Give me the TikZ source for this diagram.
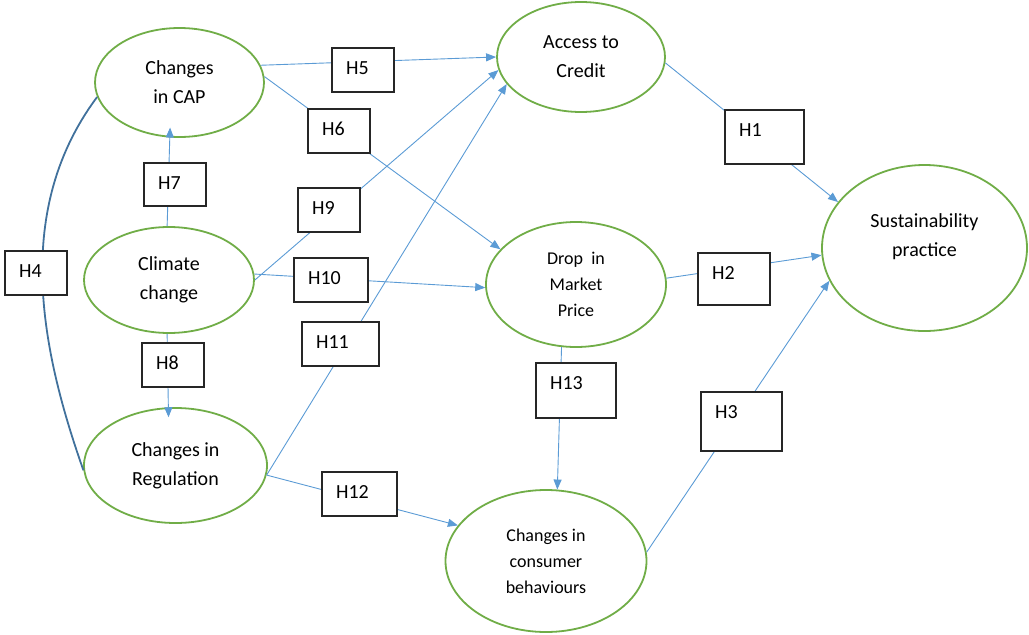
\documentclass[tikz,border=0pt]{standalone}
\usepackage{fontspec}
\setmainfont{Carlito}
\usetikzlibrary{shapes.geometric,arrows.meta}
\definecolor{ovalgreen}{HTML}{70AD47}
\definecolor{linkblue}{HTML}{5B9BD5}
\definecolor{curveblue}{HTML}{41719C}
\begin{document}
\begin{tikzpicture}[x = 1pt, y = -1pt,
    construct/.style = {ellipse, draw = ovalgreen, line width = 1.8pt, inner sep = 0pt,
      align = center, font = \fontsize{20}{29}\selectfont},
    smallconstruct/.style = {construct, font = \fontsize{18}{26}\selectfont},
    hyp/.style = {rectangle, draw = black!85, line width = 1.2pt, fill = white, inner sep = 0pt},
    hyptext/.style = {anchor = west, inner sep = 0pt, xshift = 14.5pt, yshift = -20.5pt,
      font = \fontsize{20}{24}\selectfont},
    link/.style = {draw = linkblue, line width = 0.9pt, -{Triangle[length = 10pt, width = 8pt]}}]
      \useasboundingbox (0, 0) rectangle (1029, 635);
      \node [construct, minimum width = 169pt, minimum height = 109pt] (cap) at (179.5, 82.5) {Changes\\in CAP};
      \node [construct, minimum width = 170pt, minimum height = 106pt] (clim) at (169, 280) {Climate\\change};
      \node [construct, minimum width = 183pt, minimum height = 115pt] (reg) at (175.5, 465.5) {Changes in\\Regulation};
      \node [construct, minimum width = 168pt, minimum height = 110pt] (acc) at (581, 57) {Access to\\Credit};
      \node [smallconstruct, minimum width = 180pt, minimum height = 125pt] (drop) at (576, 284.5) {Drop~~in\\Market\\Price};
      \node [smallconstruct, minimum width = 201pt, minimum height = 142pt] (cons) at (546, 561) {Changes in\\consumer\\behaviours};
      \node [construct, minimum width = 205pt, minimum height = 166pt, text depth = 26pt] (sus) at (924.5, 248) {Sustainability\\practice};
      \draw [curveblue, line width = 1.8pt] (cap.190) .. controls (13, 210) and (40, 347) .. (reg.183);
      \draw [link] (cap.12) -- (acc.180);
      \draw [link] (cap.4) -- (drop.155);
      \draw [link, shorten >= -10pt] (clim.92) -- (cap.260);
      \draw [link, shorten >= -10pt] (clim.268) -- (reg.97);
      \draw [link] (clim.0) -- (acc.189);
      \draw [link] (clim.4) -- (drop.182);
      \draw [link] (reg.-6) -- (acc.200);
      \draw [link] (reg.-6) -- (cons.158);
      \draw [link] (acc.-4) -- (sus.152);
      \draw [link] (drop.4) -- (sus.184);
      \draw [link] (drop.257) -- (cons.81);
      \draw [link] (cons.5) -- (sus.199);
      \node [hyp, minimum width = 79pt, minimum height = 54pt, label = {[hyptext]north west:H1}] (h1) at (764.5, 137) {};
      \node [hyp, minimum width = 72pt, minimum height = 52pt, label = {[hyptext]north west:H2}] (h2) at (734, 279) {};
      \node [hyp, minimum width = 81pt, minimum height = 59pt, label = {[hyptext]north west:H3}] (h3) at (741.5, 421.5) {};
      \node [hyp, minimum width = 62pt, minimum height = 44pt, label = {[hyptext]north west:H4}] (h4) at (36, 273) {};
      \node [hyp, minimum width = 62pt, minimum height = 44pt, label = {[hyptext]north west:H5}] (h5) at (363, 70) {};
      \node [hyp, minimum width = 62pt, minimum height = 44pt, label = {[hyptext]north west:H6}] (h6) at (339, 131) {};
      \node [hyp, minimum width = 62pt, minimum height = 43pt, label = {[hyptext]north west:H7}] (h7) at (175, 184.5) {};
      \node [hyp, minimum width = 62pt, minimum height = 44pt, label = {[hyptext]north west:H8}] (h8) at (173, 365) {};
      \node [hyp, minimum width = 62pt, minimum height = 44pt, label = {[hyptext]north west:H9}] (h9) at (329, 210) {};
      \node [hyp, minimum width = 74pt, minimum height = 44pt, label = {[hyptext]north west:H10}] (h10) at (331, 280) {};
      \node [hyp, minimum width = 77pt, minimum height = 44pt, label = {[hyptext]north west:H11}] (h11) at (340.5, 344) {};
      \node [hyp, minimum width = 75pt, minimum height = 44pt, label = {[hyptext]north west:H12}] (h12) at (359.5, 494) {};
      \node [hyp, minimum width = 80pt, minimum height = 55pt, label = {[hyptext]north west:H13}] (h13) at (576, 390.5) {};
    \end{tikzpicture}
\end{document}
